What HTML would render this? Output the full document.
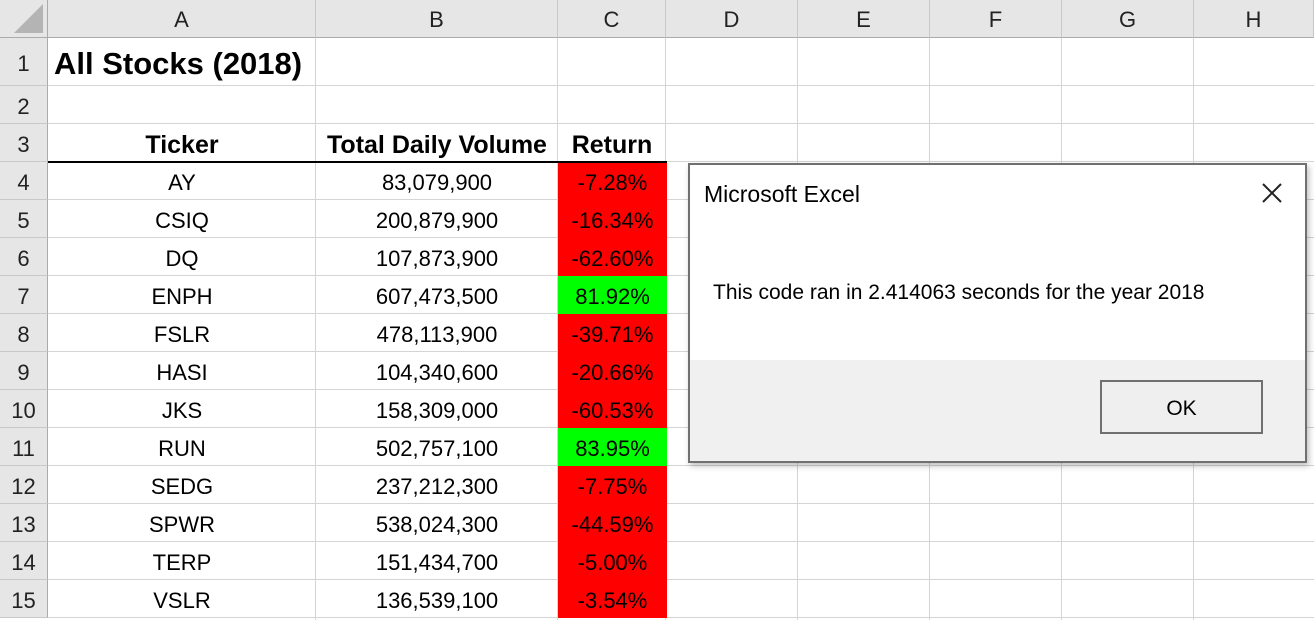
<!DOCTYPE html>
<html><head><meta charset="utf-8"><style>
*{margin:0;padding:0;box-sizing:border-box}
html,body{width:1314px;height:620px;overflow:hidden}
body{background:#fff;font-family:"Liberation Sans",sans-serif;position:relative}
.a{position:absolute}
.ch{position:absolute;top:0;height:38px;background:#e6e6e6;border-right:1px solid #c8c8c8;border-bottom:1px solid #ababab;font-size:22px;color:#222;text-align:center;line-height:40px}
.rh{position:absolute;left:0;width:48px;background:#e6e6e6;border-right:1px solid #ababab;border-bottom:1px solid #c8c8c8;font-size:22px;color:#222;text-align:center}
.vl{position:absolute;top:38px;height:582px;width:1px;background:#d4d4d4}
.hl{position:absolute;left:48px;right:0;height:1px;background:#d4d4d4}
.c{position:absolute;font-size:22px;color:#000;text-align:center;white-space:nowrap}
</style></head><body>
<div id="grid"></div>
<div class="a" style="left:0;top:0;width:48px;height:38px;background:#e6e6e6;border-right:1px solid #ababab;border-bottom:1px solid #ababab"><div style="position:absolute;right:4px;bottom:4px;width:0;height:0;border-left:29px solid transparent;border-bottom:29px solid #b4b4b4"></div></div>
<div class="c" style="left:54px;top:38px;height:48px;line-height:52px;font-weight:bold;font-size:31px;text-align:left">All Stocks (2018)</div>
<div class="a" style="left:48px;top:161px;width:619px;height:2px;background:#000"></div>
<div class="a" style="left:688px;top:163px;width:619px;height:300px;background:#fff;border:2px solid #707070;box-shadow:2px 3px 6px rgba(0,0,0,.25)">
 <div class="a" style="left:14px;top:16px;font-size:23px;color:#000">Microsoft Excel</div>
 <svg class="a" style="left:572px;top:18px" width="20" height="20"><line x1="1" y1="1" x2="19" y2="19" stroke="#222" stroke-width="2"/><line x1="19" y1="1" x2="1" y2="19" stroke="#222" stroke-width="2"/></svg>
 <div class="a" style="left:23px;top:116px;font-size:21px;color:#000">This code ran in 2.414063 seconds for the year 2018</div>
 <div class="a" style="left:0;top:195px;width:615px;height:101px;background:#f0f0f0">
  <div class="a" style="left:410px;top:20px;width:163px;height:54px;border:2px solid #707070;background:#efefef;text-align:center;line-height:54px;font-size:21px;color:#000">OK</div>
 </div>
</div>
<script>
const tickers=["AY","CSIQ","DQ","ENPH","FSLR","HASI","JKS","RUN","SEDG","SPWR","TERP","VSLR"];
const volumes=["83,079,900","200,879,900","107,873,900","607,473,500","478,113,900","104,340,600","158,309,000","502,757,100","237,212,300","538,024,300","151,434,700","136,539,100"];
const returns=[-7.28,-16.34,-62.60,81.92,-39.71,-20.66,-60.53,83.95,-7.75,-44.59,-5.00,-3.54];
const cols=["A","B","C","D","E","F","G","H"];
const colX=[48,316,558,666,798,930,1062,1194,1314];
const rowY=[38,86,124,162,200,238,276,314,352,390,428,466,504,542,580,618];
const g=document.getElementById('grid');
function mk(cls,style,txt){const d=document.createElement('div');d.className=cls;d.style.cssText=style;if(txt!==undefined)d.textContent=txt;g.appendChild(d);return d;}
for(let i=0;i<cols.length;i++){
 const d=mk('ch',`left:${colX[i]}px;width:${colX[i+1]-colX[i]}px`,cols[i]);
 
 
}
for(let i=1;i<colX.length-1;i++){const d=mk('vl',`left:${colX[i]-1}px`);
 
 }
for(let r=0;r<rowY.length-1;r++){
 const d=mk('rh',`top:${rowY[r]}px;height:${rowY[r+1]-rowY[r]}px;line-height:${rowY[r+1]-rowY[r]+4}px`,String(r+1));
 
 
 const h=mk('hl',`top:${rowY[r+1]-1}px`);
 
 
}
const hdrs=["Ticker","Total Daily Volume","Return"];
hdrs.forEach((t,i)=>{const d=mk('c',`left:${colX[i]}px;width:${colX[i+1]-colX[i]}px;top:124px;height:38px;line-height:42px;font-weight:bold;font-size:25px`,t);
 
 });
tickers.forEach((t,i)=>{
 const y=rowY[i+3],h=rowY[i+4]-y;
 const a=mk('c',`left:48px;width:268px;top:${y}px;height:${h}px;line-height:${h+4}px`,t);
 
 
 const b=mk('c',`left:316px;width:242px;top:${y}px;height:${h}px;line-height:${h+4}px`,volumes[i]);
 
 
 const v=returns[i];
 const c=mk('c',`left:558px;width:109px;top:${y}px;height:${h}px;line-height:${h+4}px;background:${v>=0?'#00ff00':'#ff0000'}`,v.toFixed(2)+'%');
 
 
});
</script>
</body></html>
